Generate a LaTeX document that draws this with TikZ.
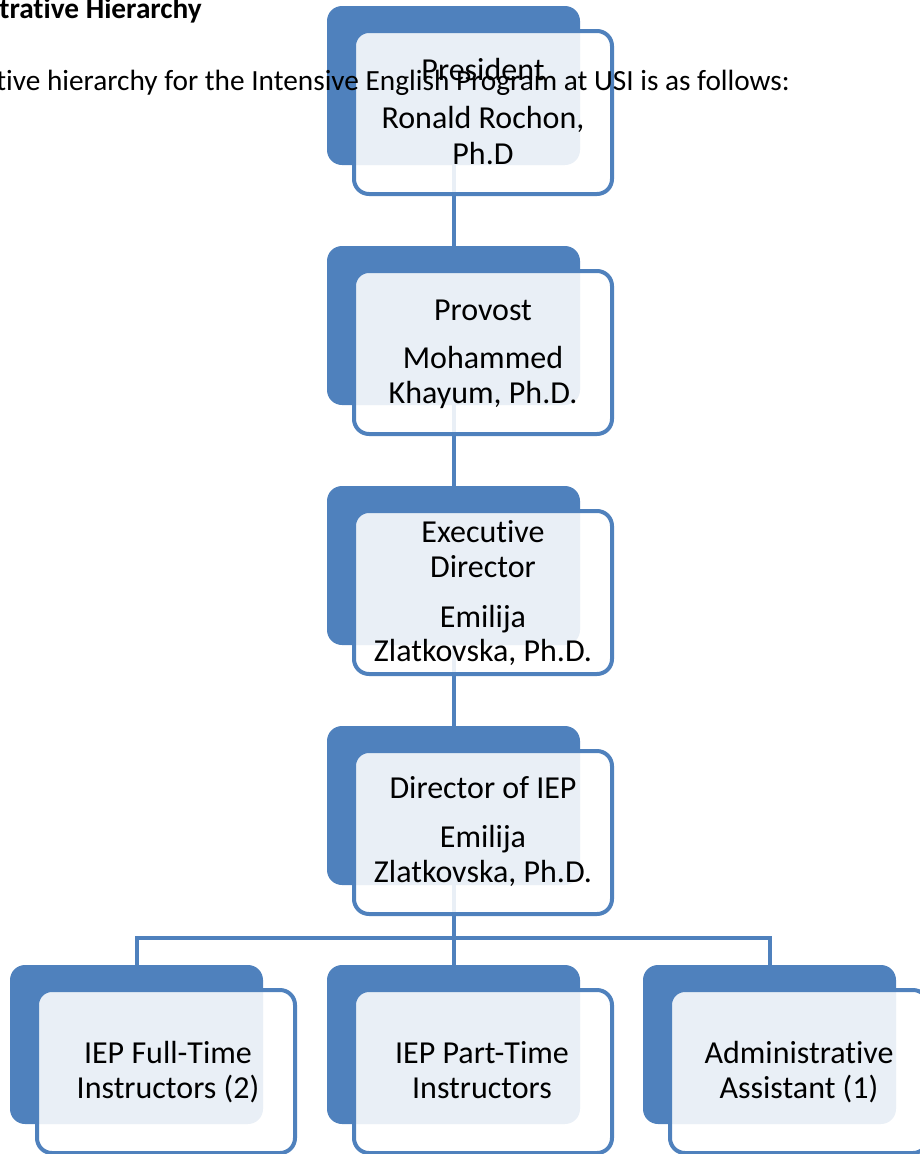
\documentclass[tikz,border=0pt]{standalone}
\usepackage{fontspec}
\setmainfont{Carlito}[Ligatures=NoCommon]
\definecolor{accent}{HTML}{4F81BD}
\begin{document}
\begin{tikzpicture}[x=1pt,y=-1pt,
  backbox/.style={fill=accent, rounded corners=15pt, minimum width=253pt, minimum height=159pt, inner sep=0pt},
  frontbox/.style={draw=accent, line width=4pt, fill=white, fill opacity=0.88, rounded corners=15pt, minimum width=258pt, minimum height=163pt, inner sep=0pt},
  link/.style={draw=accent, line width=4pt},
  lbl/.style={anchor=base, inner sep=0pt, font=\fontsize{32}{35}\selectfont},
  intro/.style={anchor=base east, inner sep=0pt, font=\fontsize{29.3}{35}\selectfont},
]
\useasboundingbox (0,0) rectangle (920,1154);
% back boxes
\node[backbox] (b1) at (453.5,85.5) {};
\node[backbox] (b2) at (453.5,325.5) {};
\node[backbox] (b3) at (453.5,565.5) {};
\node[backbox] (b4) at (453.5,805.5) {};
\node[backbox] (b5) at (136.5,1044.5) {};
\node[backbox] (b6) at (453.5,1044.5) {};
\node[backbox] (b7) at (769.5,1044.5) {};
% connectors
\coordinate (bus) at (453.5,938);
\draw[link] (b1.south) -- (b2.north);
\draw[link] (b2.south) -- (b3.north);
\draw[link] (b3.south) -- (b4.north);
\draw[link] (b4.south) -- (b6.north);
\draw[link] (b5.north) -- (b5.north |- bus) -- (b7.north |- bus) -- (b7.north);
% front boxes
\node[frontbox] (f1) at (483,112.5) {};
\node[frontbox] (f2) at (483,352.5) {};
\node[frontbox] (f3) at (483,592.5) {};
\node[frontbox] (f4) at (483,832.5) {};
\node[frontbox] (f5) at (166,1071.5) {};
\node[frontbox] (f6) at (483,1071.5) {};
\node[frontbox] (f7) at (799,1071.5) {};
% heading and intro text
\node[intro, font=\fontsize{29.3}{35}\selectfont\bfseries] (head) at (202,18) {trative Hierarchy};
\node[intro] (introtext) at (790,90) {tive hierarchy for the Intensive English Program at USI is as follows:};
% labels
\node[lbl] (t1a) at (483,80) {President};
\node[lbl] (t1b) at (483,128) {Ronald Rochon,};
\node[lbl] (t1c) at (483,164) {Ph.D};
\node[lbl] (t2a) at (483,320) {Provost};
\node[lbl] (t2b) at (483,368) {Mohammed};
\node[lbl] (t2c) at (483,403) {Khayum, Ph.D.};
\node[lbl] (t3a) at (483,542) {Executive};
\node[lbl] (t3b) at (483,577) {Director};
\node[lbl] (t3c) at (483,627) {Emilija};
\node[lbl] (t3d) at (483,661) {Zlatkovska, Ph.D.};
\node[lbl] (t4a) at (483,798) {Director of IEP};
\node[lbl] (t4b) at (483,847) {Emilija};
\node[lbl] (t4c) at (483,882) {Zlatkovska, Ph.D.};
\node[lbl] (t5a) at (168,1063) {IEP Full-Time};
\node[lbl] (t5b) at (168,1098) {Instructors (2)};
\node[lbl] (t6a) at (482,1063) {IEP Part-Time};
\node[lbl] (t6b) at (482,1098) {Instructors};
\node[lbl] (t7a) at (799,1063) {Administrative};
\node[lbl] (t7b) at (799,1098) {Assistant (1)};
\end{tikzpicture}
\end{document}
